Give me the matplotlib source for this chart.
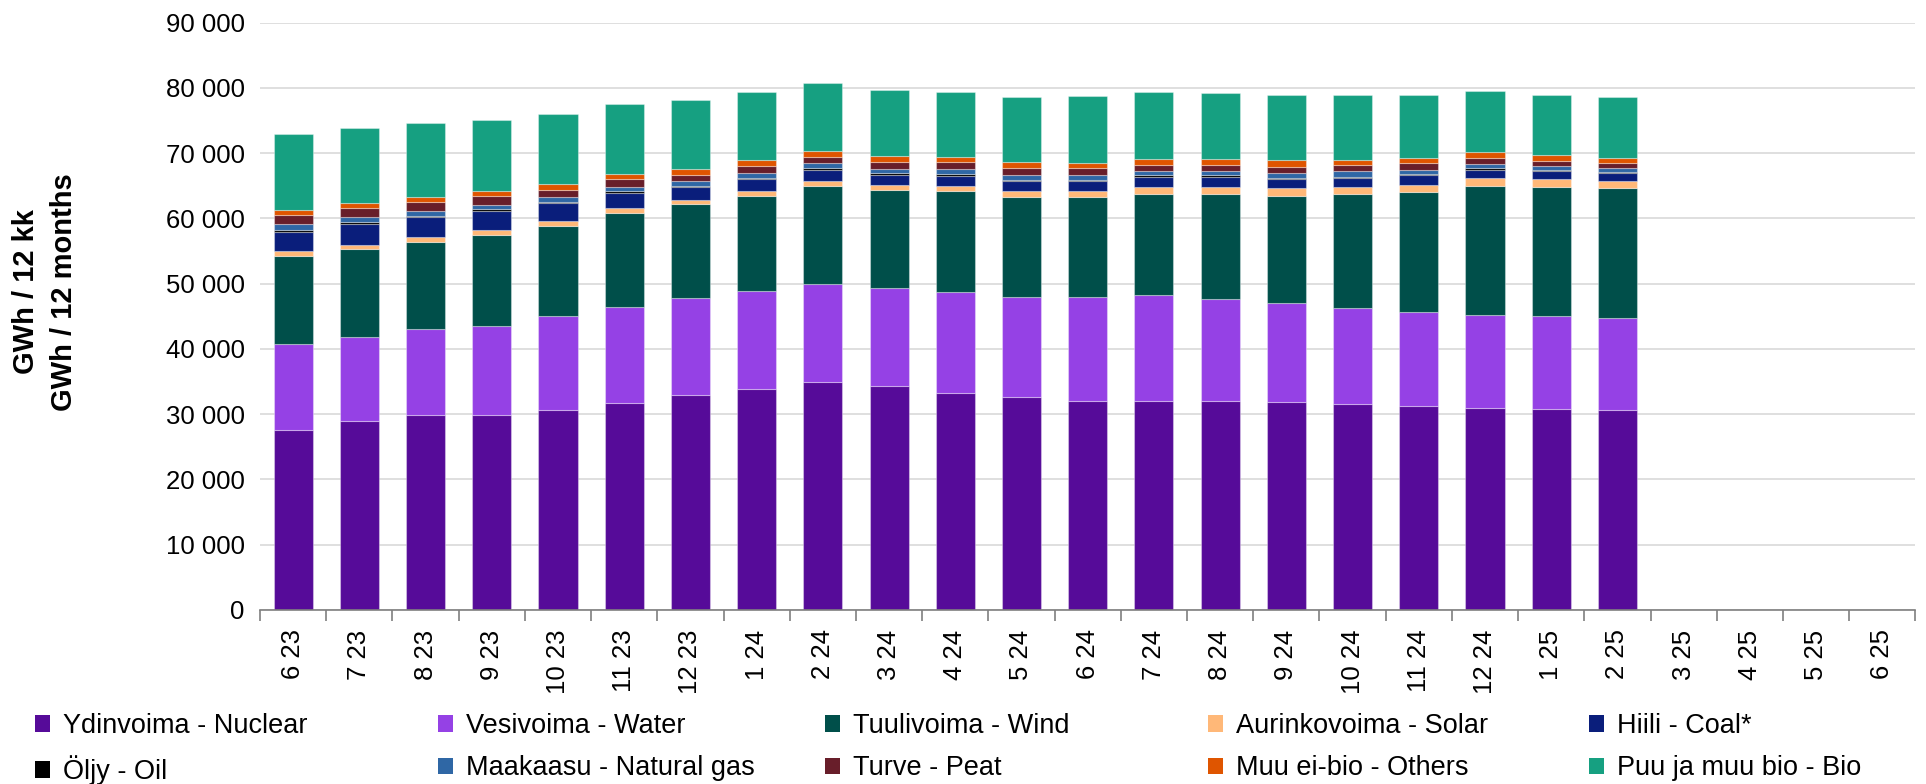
import numpy as np
import matplotlib
matplotlib.use("Agg")
import matplotlib.pyplot as plt
from matplotlib.patches import Patch
from matplotlib.ticker import FuncFormatter, FixedLocator
from matplotlib import font_manager

months = ["6 23", "7 23", "8 23", "9 23", "10 23", "11 23", "12 23",
          "1 24", "2 24", "3 24", "4 24", "5 24", "6 24", "7 24", "8 24",
          "9 24", "10 24", "11 24", "12 24", "1 25", "2 25",
          "3 25", "4 25", "5 25", "6 25"]

# GWh over rolling 12 months, Jun 2023 .. Feb 2025
nuclear = [27600, 29000, 29900, 29900, 30700, 31700, 32900, 33900, 35000, 34300, 33300,
           32700, 32100, 32000, 32000, 31900, 31600, 31300, 31000, 30850, 30600]
water = [13200, 12800, 13100, 13600, 14350, 14700, 14850, 15000, 14900, 15100, 15400,
         15300, 15800, 16200, 15650, 15200, 14700, 14400, 14200, 14200, 14100]
wind = [13500, 13550, 13400, 14000, 13850, 14500, 14450, 14500, 15150, 15000, 15500,
        15300, 15400, 15600, 16150, 16300, 17400, 18350, 19850, 19850, 19900]
solar = [650, 650, 700, 700, 700, 700, 700, 800, 750, 750, 800,
         900, 900, 1050, 1100, 1200, 1100, 1150, 1150, 1200, 1200]
coal = [3050, 3200, 3100, 2900, 2700, 2300, 1950, 1800, 1650, 1550, 1500,
        1500, 1500, 1450, 1400, 1400, 1400, 1400, 1300, 1150, 1100]
oil = [300, 200, 250, 300, 250, 300, 200, 200, 300, 250, 350,
       250, 250, 300, 300, 200, 200, 200, 250, 200, 200]
gas = [800, 750, 650, 700, 750, 700, 650, 800, 750, 700, 700,
       750, 750, 700, 700, 700, 800, 700, 650, 550, 700]
peat = [1400, 1450, 1400, 1300, 1100, 1200, 1000, 1050, 900, 1050, 1050,
        1000, 1050, 950, 950, 1000, 1000, 1000, 900, 800, 700]
others = [800, 800, 800, 800, 950, 700, 850, 850, 900, 800, 800,
          900, 750, 850, 850, 1000, 800, 800, 850, 900, 800]
bio = [11700, 11400, 11300, 10850, 10650, 10800, 10650, 10500, 10450, 10250, 10000,
       10000, 10200, 10300, 10200, 10100, 10000, 9700, 9350, 9300, 9300]

series = [
    ("Ydinvoima - Nuclear", nuclear, "#560b99"),
    ("Vesivoima - Water", water, "#9541e5"),
    ("Tuulivoima - Wind", wind, "#004f4a"),
    ("Aurinkovoima - Solar", solar, "#ffb878"),
    ("Hiili - Coal*", coal, "#0a1e7b"),
    ("Öljy - Oil", oil, "#000000"),
    ("Maakaasu - Natural gas", gas, "#2f67a5"),
    ("Turve - Peat", peat, "#681e2a"),
    ("Muu ei-bio - Others", others, "#df5500"),
    ("Puu ja muu bio - Bio", bio, "#16a081"),
]

names = {f.name for f in font_manager.fontManager.ttflist}
base_font = "Liberation Sans" if "Liberation Sans" in names else "DejaVu Sans"
if "Liberation Sans Narrow" in names:
    legend_prop = {"family": "Liberation Sans Narrow", "size": 21}
else:
    legend_prop = {"family": base_font, "size": 19.5}
plt.rcParams["font.family"] = [base_font, "DejaVu Sans"]

fig = plt.figure(figsize=(19.26, 7.84), dpi=100)
ax = fig.add_axes([0.135, 0.222, 0.8595, 0.749])

x = np.arange(len(nuclear))
bottom = np.zeros(len(nuclear))
handles = []
for label, vals, color in series:
    vals = np.array(vals, dtype=float)
    ax.bar(x, vals, bottom=bottom, width=0.59, color=color,
           edgecolor=(1, 1, 1, 0.35), linewidth=0.8, zorder=2)
    bottom += vals
    handles.append(Patch(facecolor=color, label=label))

ax.set_xlim(-0.5, len(months) - 0.5)
ax.set_ylim(0, 90000)
ax.yaxis.set_major_locator(FixedLocator(np.arange(0, 90001, 10000)))
ax.yaxis.set_major_formatter(FuncFormatter(lambda v, p: f"{int(v):,}".replace(",", " ")))
ax.grid(axis="y", color="#d9d9d9", linewidth=1.2, zorder=0)
ax.set_axisbelow(True)

ax.set_xticks(np.arange(len(months)))
ax.set_xticklabels(months, rotation=90)
ax.set_xticks(np.arange(-0.5, len(months), 1.0), minor=True)
ax.tick_params(axis="x", which="major", length=0, pad=14, labelsize=18.5)
ax.tick_params(axis="x", which="minor", length=8, width=1.2, color="#7f7f7f")
ax.tick_params(axis="y", length=0, pad=11, labelsize=18.5)

for side in ["top", "right", "left"]:
    ax.spines[side].set_visible(False)
ax.spines["bottom"].set_color("#7f7f7f")
ax.spines["bottom"].set_linewidth(1.2)

fig.text(26 / 1926, 0.628, "GWh / 12 kk", rotation=90,
         ha="center", va="center", fontsize=21, fontweight="bold")
fig.text(64 / 1926, 0.628, "GWh / 12 months", rotation=90,
         ha="center", va="center", fontsize=21, fontweight="bold")

# legend: 5 evenly spaced columns, two rows
col_x = [35, 438, 825, 1208, 1589]
for i, cx in enumerate(col_x):
    fig.legend(handles=[handles[i], handles[i + 5]], loc="upper left",
               bbox_to_anchor=(cx / 1926, 1 - 713 / 784), frameon=False,
               borderpad=0, borderaxespad=0, handlelength=0.55, handleheight=0.55,
               handletextpad=0.5, labelspacing=0.6, prop=legend_prop)

fig.savefig("out.png", dpi=100, facecolor="white")
